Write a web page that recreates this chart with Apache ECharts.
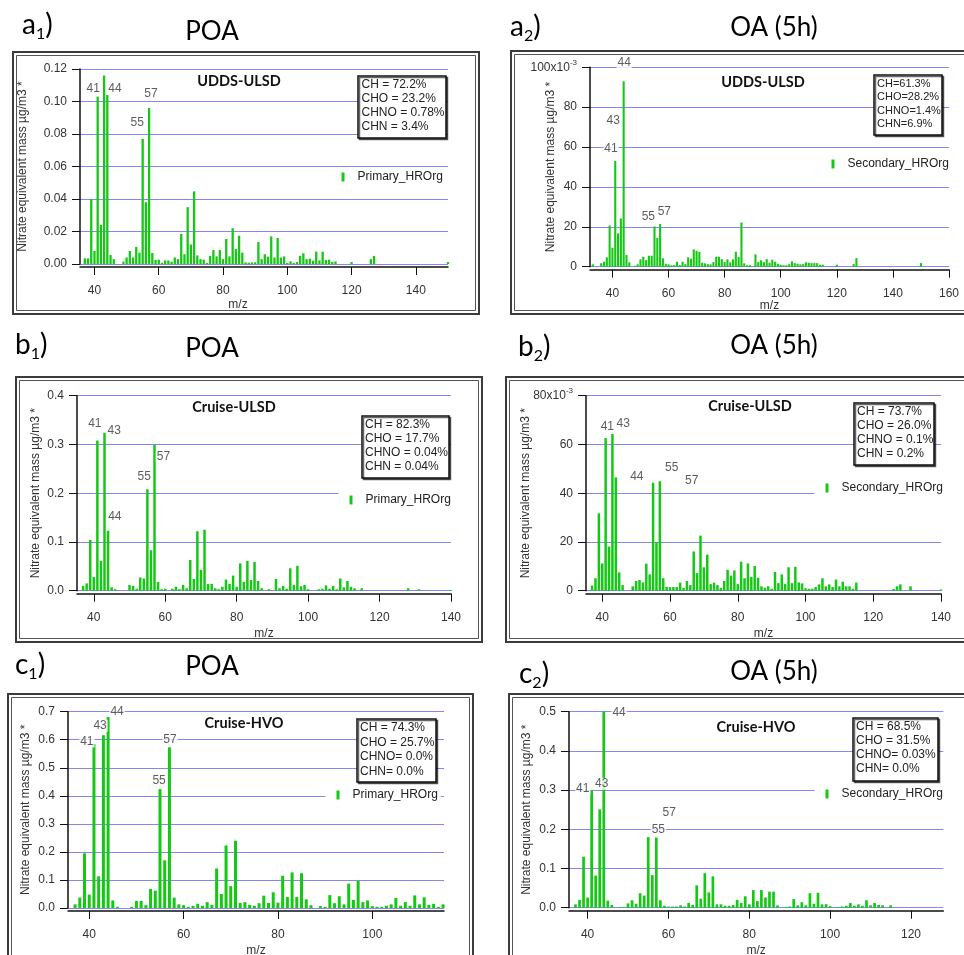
<!DOCTYPE html>
<html><head><meta charset="utf-8">
<script src="https://cdn.jsdelivr.net/npm/echarts@6/dist/echarts.min.js"></script>
<style>html,body{margin:0;padding:0;background:#fff}#c{width:964px;height:955px}</style>
</head><body><div id="c"></div>
<script>
// ---------------- DATA ----------------
// a1: POA, UDDS-ULSD (µg/m3)
const a1_mz  = [37,38,39,40,41,42,43,44,45,46, 49,50,51,52,53,54,55,56,57,58, 59,60,61,62,63,64,65,66,67,68, 69,70,71,72,73,74,75,76,77,78, 79,80,81,82,83,84,85,86,87,88, 89,90,91,92,93,94,95,96,97,98, 99,100,101,102,103,104,105,106,107,108, 109,110,111,112,113,114,115,120,126,127, 150];
const a1_val = [0.0035,0.0035,0.040,0.008,0.103,0.024,0.116,0.104,0.0055,0.003, 0.0015,0.004,0.008,0.004,0.0105,0.007,0.077,0.038,0.096,0.0068, 0.0025,0.0027,0.0007,0.0022,0.0022,0.0014,0.004,0.003,0.0185,0.006, 0.035,0.012,0.0447,0.0053,0.003,0.0027,0.0006,0.005,0.0086,0.0047, 0.0086,0.003,0.0154,0.0047,0.022,0.0092,0.0174,0.007,0.001,0.0008, 0.001,0.001,0.0135,0.003,0.006,0.0045,0.017,0.004,0.016,0.004, 0.0047,0.0006,0.0016,0.0006,0.0012,0.005,0.0066,0.003,0.0033,0.002, 0.0076,0.0022,0.0076,0.0025,0.0027,0.0012,0.0016,0.0012,0.003,0.005, 0.0012];
// a2: OA (5h), UDDS-ULSD (x10^-3 µg/m3)
const a2_mz  = [33,36,37,38,39,40,41,42,43,44, 45,46,48,49,50,51,52,53,54,55, 56,57,58,59,60,61,62,63,64,65, 66,67,68,69,70,71,72,73,74,75, 76,77,78,79,80,81,82,83,84,85, 86,87,88,89,90,91,92,93,94,95, 96,97,98,99,100,101,102,103,104,105, 106,107,108,109,110,111,112,113,114,115, 120,126,127,150];
const a2_val = [1.2,1.7,2.5,4.7,20.7,9.5,53,16.7,24.2,93, 5.9,2.2,0.5,1.2,3.7,5,3.3,5.5,5.5,20.2, 14.4,21.4,4.2,1.5,1.2,0.7,0.8,2.5,0.8,2.5, 1.3,4.7,4,8.7,8,7.4,2,1.7,1.3,1.2, 2.3,5,5,3.8,2.3,3.7,2.2,3.7,7.5,4.8, 22.2,1.7,0.7,0.8,0.2,6.2,2.3,3.2,2.3,3.8, 2,3.5,2.5,1.5,1,0.7,0.7,1.2,2.7,1.8, 1.5,1.2,1.3,2.2,2,1.8,1.8,1.8,1,1, 1,1.3,4.3,1.8];
// b1: POA, Cruise-ULSD
const b1_mz  = [37,38,39,40,41,42,43,44,45,46, 50,51,52,53,54,55,56,57,58,59, 60,62,63,64,65,66,67,68,69,70, 71,72,73,74,75,76,77,78,79,80, 81,82,83,84,85,86,87,89,91,92, 93,94,95,96,97,98,99,100,103,104, 105,106,107,108,109,110,111,112,113,115, 128,131,140];
const b1_val = [0.010,0.015,0.104,0.028,0.308,0.061,0.324,0.123,0.007,0.003, 0.012,0.010,0.004,0.027,0.025,0.208,0.083,0.299,0.018,0.003, 0.004,0.004,0.008,0.003,0.012,0.005,0.063,0.024,0.122,0.043, 0.125,0.014,0.014,0.005,0.003,0.008,0.023,0.014,0.031,0.008, 0.056,0.018,0.061,0.022,0.059,0.020,0.005,0.003,0.024,0.005, 0.010,0.004,0.046,0.012,0.051,0.009,0.012,0.003,0.003,0.004, 0.011,0.004,0.010,0.003,0.025,0.007,0.020,0.008,0.005,0.005, 0.005,0.003,0.0015];
// b2: OA (5h), Cruise-ULSD (x10^-3)
const b2_mz  = [37,38,39,40,41,42,43,44,45,46, 49,50,51,52,53,54,55,56,57,58, 59,60,61,62,63,64,65,66,67,68, 69,70,71,72,73,74,75,76,77,78, 79,80,81,82,83,84,85,86,87,88, 89,90,91,92,93,94,95,96,97,98, 99,100,101,102,103,104,105,106,107,108, 109,110,111,112,113,114,115,126,127,128, 131,140];
const b2_val = [2.1,5.1,31.7,11.2,62.6,18.1,64.3,46.5,7.5,2.3, 1.8,4,4.4,3.4,11.1,6.7,44.3,19.8,44.9,5.1, 1.6,1.5,1.5,1.5,3.3,1.1,4,2.3,16.1,7.2, 22.6,9.6,14.8,2.7,3.3,2.3,1.1,4,8.6,6.2, 8.3,2.7,11.9,5.1,11.2,5.6,10.1,5.3,1.8,1.2, 1.8,0.8,7.7,3.1,6.7,2.7,9.6,3.1,9.8,3.4, 3,1,0.8,0.8,1.5,2.6,5.1,1.8,2.6,1.5, 4.6,1.8,3.7,1.8,1.8,0.8,3.3,0.7,1.8,2.6, 1.8,0.5];
// c1: POA, Cruise-HVO
const c1_mz  = [37,38,39,40,41,42,43,44,45,46, 49,50,51,52,53,54,55,56,57,58, 59,60,61,62,63,64,65,66,67,68, 69,70,71,72,73,74,75,76,77,78, 79,80,81,82,83,84,85,86,87,89, 90,91,92,93,94,95,96,97,98,99, 100,101,102,103,104,105,106,107,108,109, 110,111,112,113,114,115];
const c1_val = [0.013,0.037,0.195,0.048,0.585,0.113,0.616,0.681,0.027,0.004, 0.004,0.025,0.025,0.010,0.068,0.062,0.424,0.170,0.573,0.037, 0.013,0.010,0.004,0.008,0.015,0.008,0.021,0.011,0.141,0.050, 0.223,0.078,0.240,0.018,0.021,0.011,0.008,0.017,0.044,0.018, 0.056,0.019,0.115,0.039,0.127,0.039,0.124,0.031,0.010,0.007, 0.004,0.046,0.017,0.042,0.013,0.087,0.029,0.097,0.021,0.027, 0.007,0.004,0.004,0.008,0.013,0.036,0.008,0.021,0.008,0.045, 0.013,0.038,0.011,0.015,0.004,0.013];
// c2: OA (5h), Cruise-HVO
const c2_mz  = [37,38,39,40,41,42,43,44,45,46, 48,49,50,51,52,53,54,55,56,57, 58,59,60,61,62,63,64,65,66,67, 68,69,70,71,72,73,74,75,76,77, 78,79,80,81,82,83,84,85,86,87, 89,90,91,92,93,94,95,96,97,98, 99,100,102,103,104,105,106,107,108,109, 110,111,112,113,115];
const c2_val = [0.0085,0.020,0.130,0.026,0.299,0.082,0.251,0.500,0.018,0.007, 0.002,0.002,0.011,0.019,0.010,0.037,0.031,0.180,0.083,0.179, 0.019,0.005,0.003,0.003,0.003,0.006,0.003,0.012,0.007,0.057, 0.023,0.088,0.039,0.080,0.0085,0.0085,0.005,0.005,0.007,0.020, 0.012,0.029,0.0085,0.045,0.017,0.045,0.026,0.041,0.041,0.006, 0.002,0.003,0.022,0.006,0.014,0.006,0.037,0.010,0.038,0.0085, 0.009,0.004,0.002,0.003,0.005,0.012,0.005,0.0085,0.005,0.019, 0.006,0.012,0.007,0.006,0.006];

// tick labels (m/z)
const a1_xTicks = [40,60,80,100,120,140];
const a2_xTicks = [40,60,80,100,120,140,160];
const b_xTicks  = [40,60,80,100,120,140];
const c1_xTicks = [40,60,80,100];
const c2_xTicks = [40,60,80,100,120];

// elemental composition boxes
const a1_stats = ['CH = 72.2%','CHO = 23.2%','CHNO = 0.78%','CHN = 3.4%'];
const a2_stats = ['CH=61.3%','CHO=28.2%','CHNO=1.4%','CHN=6.9%'];
const b1_stats = ['CH = 82.3%','CHO = 17.7%','CHNO = 0.04%','CHN = 0.04%'];
const b2_stats = ['CH = 73.7%','CHO = 26.0%','CHNO = 0.1%','CHN = 0.2%'];
const c1_stats = ['CH = 74.3%','CHO = 25.7%','CHNO= 0.0%','CHN= 0.0%'];
const c2_stats = ['CH = 68.5%','CHO = 31.5%','CHNO= 0.03%','CHN= 0.0%'];

// peak annotations (text, m/z position, value position)
const a1_peakT = ['41','44','57','55'];
const a1_peakX = [39.6,46.4,57.6,53.3];
const a1_peakY = [0.108,0.108,0.105,0.087];
const a2_peakT = ['44','43','41','55','57'];
const a2_peakX = [44.2,40.3,39.5,52.8,58.5];
const a2_peakY = [102.5,73.2,59.4,25.2,27.4];
const b1_peakT = ['41','43','57','55','44'];
const b1_peakX = [40.3,45.7,59.5,54.1,45.9];
const b1_peakY = [0.342,0.328,0.275,0.233,0.152];
const b2_peakT = ['41','43','44','55','57'];
const b2_peakX = [41.5,46.2,50.2,60.5,66.4];
const b2_peakY = [67.4,68.4,46.6,50.3,45.3];
const c1_peakT = ['41','43','44','55','57'];
const c1_peakX = [39.5,42.3,45.9,54.8,57.1];
const c1_peakY = [0.594,0.650,0.701,0.455,0.600];
const c2_peakT = ['44','41','43','57','55'];
const c2_peakX = [47.8,38.8,43.5,60.2,57.5];
const c2_peakY = [0.497,0.304,0.316,0.243,0.199];

// ---------------- STYLE / LAYOUT ----------------
const BAR = '#14c814';
const GRIDC = '#8686f4';
const FONT = '"Liberation Sans", Arial, sans-serif';
const HEAD = 'Lato, "Open Sans", sans-serif';
const YNAME = 'Nitrate equivalent mass µg/m3 *';

const panels = [
  {head:'a',sub:'1',phase:'POA',title:'UDDS-ULSD',sname:'Primary_HROrg',mz:a1_mz,val:a1_val,xMin:35.5,xMax:150,xTicks:a1_xTicks,yMax:0.12,yInt:0.02,dec:2,milli:false,stats:a1_stats,pk:[a1_peakT,a1_peakX,a1_peakY],
   L:{grid:[80,69,368,195],frame:[13,52,466,262],headPos:[22,33],phasePos:[212,41],titlePos:[239,81],box:[358,76,88,62],boxT:[361.5,85,14,12],legend:[343,178],yGap:51,xGap:32,xPad:[0,52,0,0],barW:2.3}},
  {head:'a',sub:'2',phase:'OA (5h)',title:'UDDS-ULSD',sname:'Secondary_HROrg',mz:a2_mz,val:a2_val,xMin:32,xMax:160,xTicks:a2_xTicks,yMax:100,yInt:20,dec:0,milli:true,stats:a2_stats,pk:[a2_peakT,a2_peakX,a2_peakY],
   L:{grid:[590,67.3,359,199.4],frame:[511,51,460,263],headPos:[510,35],phasePos:[774,37],titlePos:[763,82],box:[874,75,68,60],boxT:[877,84,13.3,11],legend:[833,165],yGap:33,xGap:30,xPad:0,barW:2.1}},
  {head:'b',sub:'1',phase:'POA',title:'Cruise-ULSD',sname:'Primary_HROrg',mz:b1_mz,val:b1_val,xMin:35.3,xMax:140,xTicks:b_xTicks,yMax:0.4,yInt:0.1,dec:1,milli:false,stats:b1_stats,pk:[b1_peakT,b1_peakX,b1_peakY],
   L:{grid:[77,395.7,374,195],frame:[16,377,466,265],headPos:[15,353],phasePos:[212,358],titlePos:[234,407],box:[362,416,87,62],boxT:[365,425,14,12],legend:[351,501],yGap:35,xGap:34,xPad:0,barW:2.5}},
  {head:'b',sub:'2',phase:'OA (5h)',title:'Cruise-ULSD',sname:'Secondary_HROrg',mz:b2_mz,val:b2_val,xMin:35.2,xMax:140,xTicks:b_xTicks,yMax:80,yInt:20,dec:0,milli:true,stats:b2_stats,pk:[b2_peakT,b2_peakX,b2_peakY],
   L:{grid:[586,395.7,355,195],frame:[506,377,465,265],headPos:[518,355],phasePos:[774,355],titlePos:[750,406],box:[854,403,80,62],boxT:[857,412,14,12],legend:[827,489],yGap:54,xGap:34,xPad:0,barW:2.5}},
  {head:'c',sub:'1',phase:'POA',title:'Cruise-HVO',sname:'Primary_HROrg',mz:c1_mz,val:c1_val,xMin:35.5,xMax:115.2,xTicks:c1_xTicks,yMax:0.7,yInt:0.1,dec:1,milli:false,stats:c1_stats,pk:[c1_peakT,c1_peakX,c1_peakY],
   L:{grid:[68,711.7,376,196.3],frame:[8,694,465,270],headPos:[15,673],phasePos:[212,676],titlePos:[244,723],box:[357,719,79,63],boxT:[360,728,14.5,12],legend:[338,796],yGap:36,xGap:34,xPad:0,barW:3}},
  {head:'c',sub:'2',phase:'OA (5h)',title:'Cruise-HVO',sname:'Secondary_HROrg',mz:c2_mz,val:c2_val,xMin:35.4,xMax:128,xTicks:c2_xTicks,yMax:0.5,yInt:0.1,dec:1,milli:false,stats:c2_stats,pk:[c2_peakT,c2_peakX,c2_peakY],
   L:{grid:[569,711.7,374.3,196],frame:[509,694,462,270],headPos:[519,682],phasePos:[774,681],titlePos:[756,727],box:[853,718,85,63],boxT:[856,727,14,12],legend:[827,795],yGap:36,xGap:34,xPad:0,barW:2.7}}
];

const grids=[], xAxes=[], yAxes=[], series=[], legends=[], graphics=[];
panels.forEach((p,i)=>{
  const L=p.L;
  grids.push({left:L.grid[0],top:L.grid[1],width:L.grid[2],height:L.grid[3],containLabel:false,outerBoundsMode:'none'});
  xAxes.push({type:'value',gridIndex:i,min:p.xMin,max:p.xMax,offset:3,
    name:'m/z',nameLocation:'middle',nameGap:L.xGap,nameMoveOverlap:false,
    nameTextStyle:{fontFamily:FONT,fontSize:12,color:'#333',padding:L.xPad},
    axisLine:{show:true,onZero:false,lineStyle:{color:'#111',width:1.5}},
    axisTick:{show:true,length:8,customValues:p.xTicks,lineStyle:{color:'#111',width:1}},
    axisLabel:{customValues:p.xTicks,margin:18,fontFamily:FONT,fontSize:12,color:'#333'},
    splitLine:{show:false}});
  yAxes.push({type:'value',gridIndex:i,min:0,max:p.yMax,interval:p.yInt,
    name:YNAME,nameLocation:'middle',nameRotate:90,nameGap:L.yGap,nameMoveOverlap:false,
    nameTextStyle:{fontFamily:FONT,fontSize:12,color:'#333'},
    axisLine:{show:true,lineStyle:{color:'#111',width:1.5}},
    axisTick:{show:true,length:8,lineStyle:{color:'#111',width:1}},
    axisLabel:{margin:13,fontFamily:FONT,fontSize:12,color:'#333',
      formatter:(v)=>{ if(p.milli){ return Math.abs(v-p.yMax)<1e-9 ? '{n|'+v+'x10}{s|-3}' : String(Math.round(v)); } return v.toFixed(p.dec); },
      rich:{n:{fontFamily:FONT,fontSize:12,color:'#333',lineHeight:18},s:{fontFamily:FONT,fontSize:8,color:'#333',lineHeight:8,verticalAlign:'top'}}},
    splitLine:{show:true,lineStyle:{color:GRIDC,width:1}}});
  series.push({type:'bar',name:p.sname,xAxisIndex:i,yAxisIndex:i,barWidth:L.barW,z:3,
    itemStyle:{color:BAR},data:p.mz.map((m,k)=>[m,p.val[k]])});
  series.push({type:'scatter',name:'peaks_'+i,xAxisIndex:i,yAxisIndex:i,symbolSize:1,clip:false,z:4,silent:true,
    itemStyle:{color:'rgba(0,0,0,0)'},
    label:{show:true,position:'inside',formatter:(q)=>q.data[2],fontFamily:FONT,fontSize:12,color:'#333',backgroundColor:'#fff',padding:[0,1]},
    data:p.pk[0].map((t,k)=>[p.pk[1][k],p.pk[2][k],t])});
  legends.push({data:[p.sname],orient:'vertical',left:L.legend[0]-1.5-11,top:L.legend[1]-9,itemWidth:3,itemHeight:9,icon:'rect',
    backgroundColor:'#fff',padding:[2,3,2,11],selectedMode:false,
    textStyle:{fontFamily:FONT,fontSize:12,color:'#222',padding:[0,0,0,8]}});
  // frame (double border)
  const [fx,fy,fw,fh]=L.frame;
  graphics.push({type:'rect',z:0,silent:true,shape:{x:fx,y:fy,width:fw,height:fh},style:{fill:'none',stroke:'#3c3c3c',lineWidth:2}});
  graphics.push({type:'rect',z:0,silent:true,shape:{x:fx+3.5,y:fy+3.5,width:fw-7,height:fh-7},style:{fill:'none',stroke:'#555',lineWidth:1}});
  // panel label a1) etc.
  graphics.push({type:'text',z:5,silent:true,x:L.headPos[0],y:L.headPos[1]-8.4,
    style:{text:'{m|'+p.head+'}{s|'+p.sub+'}{m|)}',fill:'#000',verticalAlign:'middle',textVerticalAlign:'middle',
      rich:{m:{fontFamily:HEAD,fontSize:28,lineHeight:35,fill:'#000'},s:{fontFamily:HEAD,fontSize:16,lineHeight:16,verticalAlign:'bottom',fill:'#000'}}}});
  graphics.push({type:'text',z:5,silent:true,x:L.phasePos[0],y:L.phasePos[1]-9,
    style:{text:p.phase,fontFamily:HEAD,fontSize:26,fill:'#000',align:'center',textAlign:'center',verticalAlign:'middle',textVerticalAlign:'middle'}});
  graphics.push({type:'text',z:5,silent:true,x:L.titlePos[0],y:L.titlePos[1],
    style:{text:p.title,fontFamily:HEAD,fontSize:14.5,fontWeight:'bold',fill:'#111',align:'center',textAlign:'center',verticalAlign:'middle',textVerticalAlign:'middle'}});
  // composition box
  const [bx,by,bw,bh]=L.box;
  graphics.push({type:'rect',z:10,silent:true,shape:{x:bx,y:by,width:bw,height:bh},
    style:{fill:'#fff',stroke:'#111',lineWidth:1.5,shadowColor:'rgba(0,0,0,0.6)',shadowOffsetX:1.5,shadowOffsetY:1.5,shadowBlur:0}});
  graphics.push({type:'text',z:11,silent:true,x:L.boxT[0],y:L.boxT[1]-L.boxT[2]/2,
    style:{text:p.stats.join('\n'),fontFamily:FONT,fontSize:L.boxT[3],lineHeight:L.boxT[2],fill:'#222',verticalAlign:'top',textVerticalAlign:'top'}});
});

const chart = echarts.init(document.getElementById('c'));
chart.setOption({
  animation:false,
  backgroundColor:'#fff',
  grid:grids, xAxis:xAxes, yAxis:yAxes, series:series, legend:legends, graphic:graphics
});
</script></body></html>
